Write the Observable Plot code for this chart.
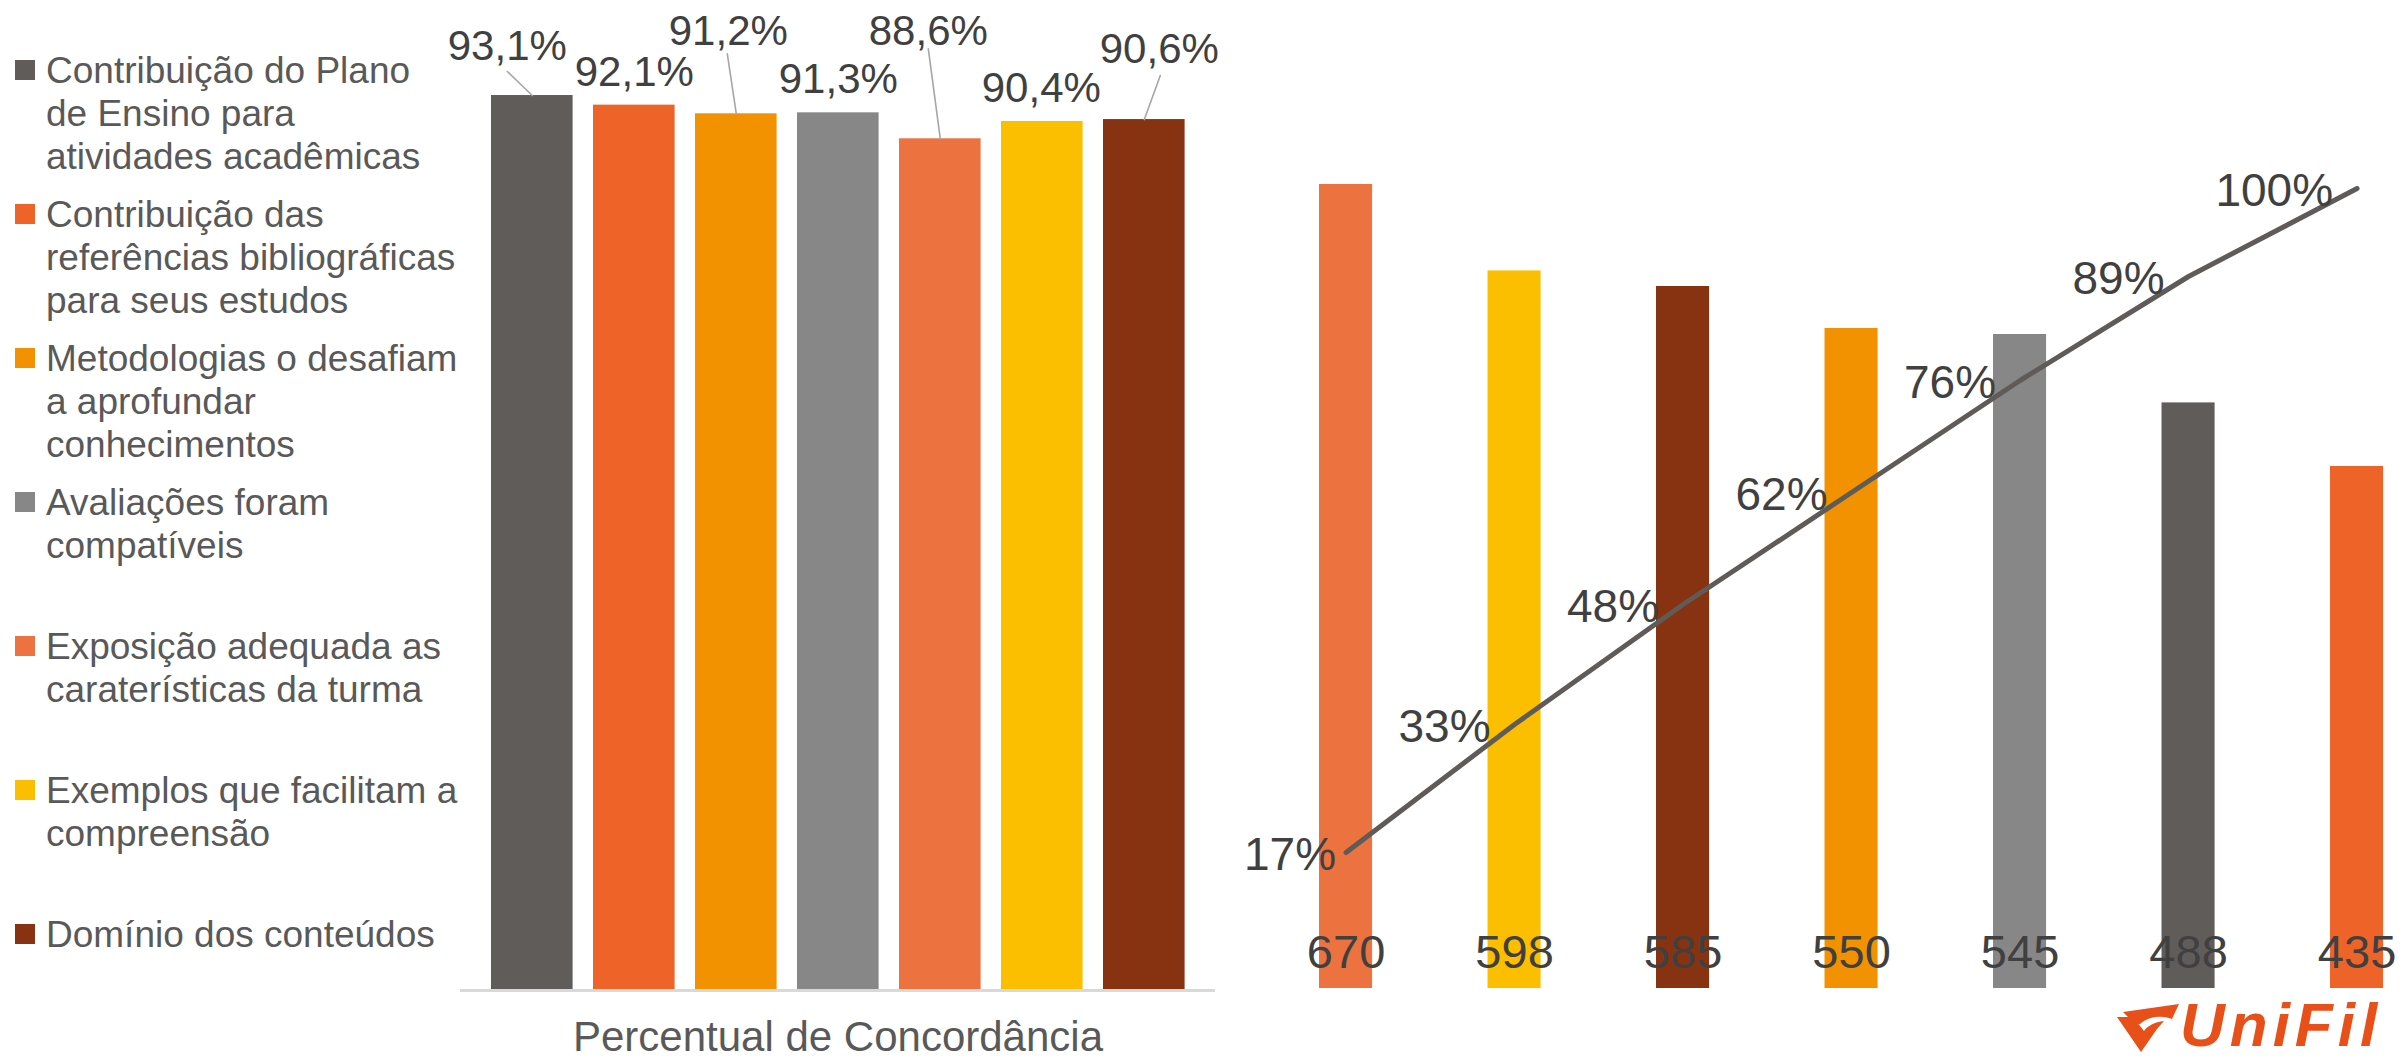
<!DOCTYPE html>
<html>
<head>
<meta charset="utf-8">
<script src="https://cdn.jsdelivr.net/npm/d3@7"></script>
<script src="https://cdn.jsdelivr.net/npm/@observablehq/plot@0.6"></script>
<style>
  html, body { margin: 0; padding: 0; background: #ffffff; }
  #root { position: relative; width: 2402px; height: 1061px; overflow: hidden;
          font-family: "Liberation Sans", Arial, sans-serif; background: #fff; }
  .layer { position: absolute; top: 0; }
  .layer svg { display: block; }
  .lg-sq { position: absolute; width: 20px; height: 20px; }
  .lg-tx { position: absolute; font-size: 37px; line-height: 43px; color: #595959; white-space: pre; }
  #logo-text { position: absolute; left: 2180px; top: 994px; font-size: 62px; line-height: 62px;
               font-weight: bold; font-style: italic; color: #E8501A; letter-spacing: 5px; }
  #logo-icon { position: absolute; left: 2117px; top: 1004px; }
</style>
</head>
<body>
<div id="root"></div>
<script>
// ---------- data ----------
const categories = [
  "Contribuição do Plano de Ensino para atividades acadêmicas",
  "Contribuição das referências bibliográficas para seus estudos",
  "Metodologias o desafiam a aprofundar conhecimentos",
  "Avaliações foram compatíveis",
  "Exposição adequada as caraterísticas da turma",
  "Exemplos que facilitam a compreensão",
  "Domínio dos conteúdos"
];
const legendLines = [
  ["Contribuição do Plano", "de Ensino para", "atividades acadêmicas"],
  ["Contribuição das", "referências bibliográficas", "para seus estudos"],
  ["Metodologias o desafiam", "a aprofundar", "conhecimentos"],
  ["Avaliações foram", "compatíveis"],
  ["Exposição adequada as", "caraterísticas da turma"],
  ["Exemplos que facilitam a", "compreensão"],
  ["Domínio dos conteúdos"]
];
const agreement = [93.1, 92.1, 91.2, 91.3, 88.6, 90.4, 90.6];
const agreementLabels = ["93,1%", "92,1%", "91,2%", "91,3%", "88,6%", "90,4%", "90,6%"];
const axisTitle = "Percentual de Concordância";

const paretoCategories = [
  "Exposição adequada as caraterísticas da turma",
  "Exemplos que facilitam a compreensão",
  "Domínio dos conteúdos",
  "Metodologias o desafiam a aprofundar conhecimentos",
  "Avaliações foram compatíveis",
  "Contribuição do Plano de Ensino para atividades acadêmicas",
  "Contribuição das referências bibliográficas para seus estudos"
];
const paretoCounts = [670, 598, 585, 550, 545, 488, 435];
const cumulativePct = [17, 33, 48, 62, 76, 89, 100];
const cumulativeLabels = ["17%", "33%", "48%", "62%", "76%", "89%", "100%"];

// ---------- styles / layout ----------
const palette = ["#605C5A", "#EE6328", "#F29200", "#878787", "#EC7340", "#FBBF00", "#873210"];
const FONT = "'Liberation Sans', Arial, sans-serif";
const TEXT = "#404040";
// manual label offsets (px) for the left chart
const labelShift = [[-25, -49], [0, -33], [-8, -82], [0, -33], [-12, -107], [-1, -33], [15, -70]];
// leader line end points (px, relative to bar top centre), null = no leader
const leaderEnd = [[-25, -24], null, [-9, -60], null, [-12, -90], null, [16, -44]];
const lineLabelDx = [-10, -24, -24, -24, -24, -24, -24];

// ---------- build ----------
const root = document.getElementById("root");
const colorScale = {domain: categories, range: palette};

// legend
legendLines.forEach((lines, i) => {
  const cy = 70 + 144 * i;
  const sq = document.createElement("div");
  sq.className = "lg-sq";
  sq.style.left = "15px";
  sq.style.top = (cy - 10) + "px";
  sq.style.background = palette[i];
  root.appendChild(sq);
  const tx = document.createElement("div");
  tx.className = "lg-tx";
  tx.style.left = "46px";
  tx.style.top = (cy - 21) + "px";
  tx.textContent = lines.join("\n");
  root.appendChild(tx);
});

// left chart
const leftData = categories.map((c, i) => ({cat: c, pct: agreement[i], label: agreementLabels[i]}));
const leaderData = leftData
  .map((d, i) => leaderEnd[i] ? {...d, len: Math.hypot(leaderEnd[i][0], leaderEnd[i][1]),
                                 rot: Math.atan2(leaderEnd[i][0], -leaderEnd[i][1]) * 180 / Math.PI} : null)
  .filter(d => d);
const leaderShape = {draw(context, l) { context.moveTo(0, 0); context.lineTo(0, -l); }};

const left = Plot.plot({
  width: 1240, height: 1061,
  marginLeft: 460, marginRight: 25, marginTop: 28.7, marginBottom: 71,
  style: {fontFamily: FONT, background: "transparent", maxWidth: "none", overflow: "visible"},
  x: {type: "band", domain: categories, range: [480.8, 1194.8], paddingInner: 0.2, paddingOuter: 0.1, round: false, axis: null},
  y: {domain: [0, 100], axis: null},
  color: colorScale,
  length: {type: "identity"},
  marks: [
    Plot.barY(leftData, {x: "cat", y: "pct", fill: "cat"}),
    Plot.ruleY([0], {stroke: "#d9d9d9", strokeWidth: 3}),
    Plot.vector(leaderData, {x: "cat", y: "pct", length: "len", rotate: "rot", anchor: "start",
      shape: leaderShape, stroke: "#a6a6a6", strokeWidth: 1.6, fill: "none"}),
    ...leftData.map((d, i) => Plot.text([d], {x: "cat", y: "pct", text: "label",
      dx: labelShift[i][0], dy: labelShift[i][1], fontSize: 42, fill: TEXT, lineAnchor: "middle", fontFamily: FONT})),
    Plot.text([axisTitle], {frameAnchor: "bottom", text: d => d, lineAnchor: "top", dy: 31,
      fontSize: 42, fill: "#595959", fontFamily: FONT})
  ]
});
const leftWrap = document.createElement("div");
leftWrap.className = "layer"; leftWrap.style.left = "0px";
leftWrap.appendChild(left);
root.appendChild(leftWrap);

// right chart (pareto)
const rightData = paretoCategories.map((c, i) => ({cat: c, n: paretoCounts[i], nLabel: String(paretoCounts[i]),
  cum: cumulativePct[i], cumLabel: cumulativeLabels[i]}));
const xRight = {type: "band", domain: paretoCategories, range: [21.3, 1200.8], paddingInner: 0.685, paddingOuter: 0.3425, round: false, axis: null};
const rightCommon = {
  width: 1162, height: 1061, marginLeft: 0, marginRight: 0, marginTop: 28, marginBottom: 73,
  style: {fontFamily: FONT, background: "transparent", maxWidth: "none", overflow: "visible"}
};
const rightBars = Plot.plot({
  ...rightCommon,
  x: xRight,
  y: {domain: [0, 800], axis: null},
  color: colorScale,
  marks: [
    Plot.barY(rightData, {x: "cat", y: "n", fill: "cat"}),
    Plot.text(rightData, {x: "cat", frameAnchor: "bottom", text: "nLabel", dy: -36, lineAnchor: "middle",
      fontSize: 47, fill: TEXT, fontFamily: FONT})
  ]
});
const rightLine = Plot.plot({
  ...rightCommon,
  x: xRight,
  y: {domain: [0, 120], axis: null},
  marks: [
    Plot.line(rightData, {x: "cat", y: "cum", stroke: "#5F5B59", strokeWidth: 5, strokeLinecap: "round"}),
    ...rightData.map((d, i) => Plot.text([d], {x: "cat", y: "cum", text: "cumLabel", textAnchor: "end",
      dx: lineLabelDx[i], dy: 3, lineAnchor: "middle", fontSize: 46, fill: TEXT, fontFamily: FONT}))
  ]
});
[rightBars, rightLine].forEach(svg => {
  const w = document.createElement("div");
  w.className = "layer"; w.style.left = "1240px";
  w.appendChild(svg);
  root.appendChild(w);
});

// logo
const logoIcon = document.createElementNS("http://www.w3.org/2000/svg", "svg");
logoIcon.setAttribute("id", "logo-icon");
logoIcon.setAttribute("width", "62");
logoIcon.setAttribute("height", "48");
logoIcon.innerHTML =
  '<path d="M6,8 L62,0 L55,15 C44,11 32,12 23,20 L18,20 Z" fill="#E8501A"/>' +
  '<path d="M0,13 L16,13 L27,27 C30,22 38,18 47,17 L40,25 L24,48 Z" fill="#E8501A"/>';
root.appendChild(logoIcon);
const logoText = document.createElement("div");
logoText.id = "logo-text";
logoText.textContent = "UniFil";
root.appendChild(logoText);
</script>
</body>
</html>
